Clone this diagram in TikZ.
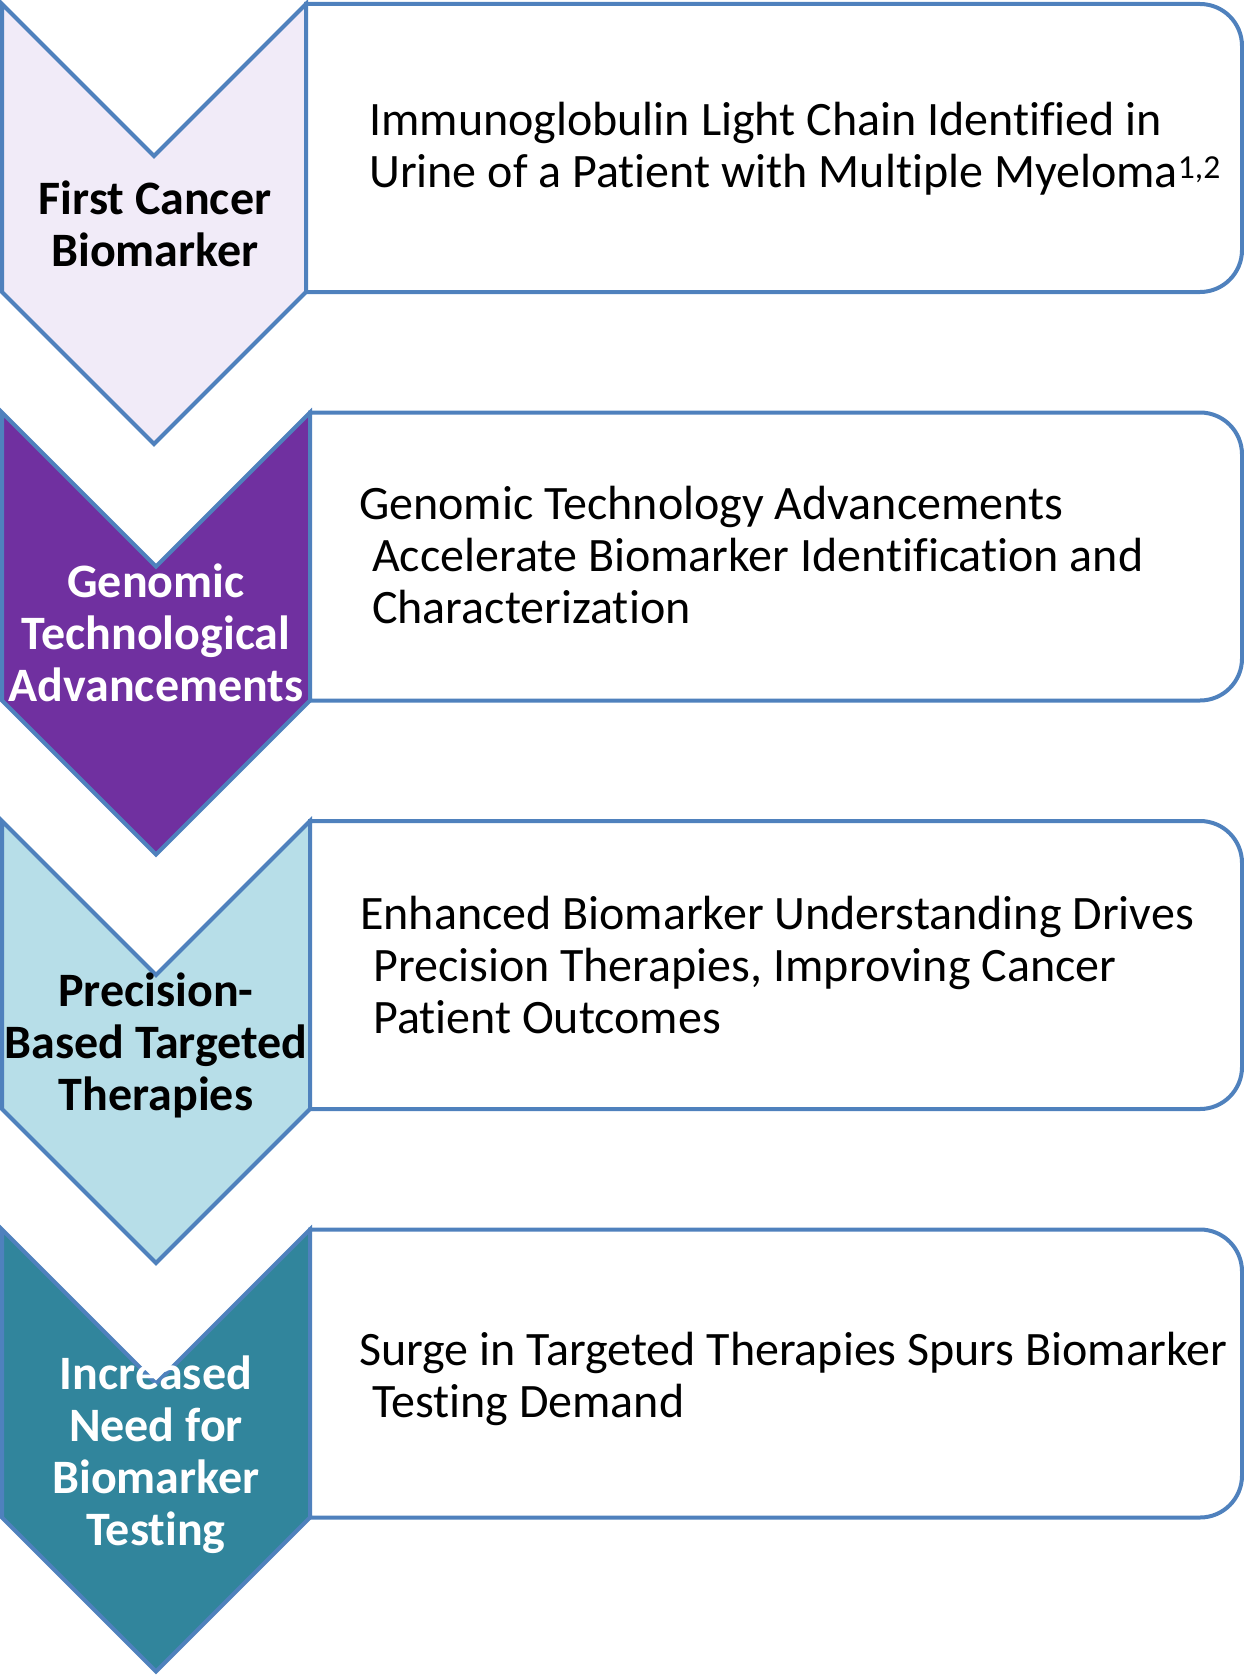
\documentclass[tikz,border=0pt]{standalone}
\usepackage{fontspec}
\setmainfont{Carlito}[Ligatures=NoCommon]
\definecolor{edgeblue}{HTML}{4F81BD}
\definecolor{lavender}{HTML}{F1EBF8}
\definecolor{deeppurple}{HTML}{7030A0}
\definecolor{paleaqua}{HTML}{B7DEE8}
\definecolor{darkteal}{HTML}{31859C}
\tikzset{
  outline/.style={draw=edgeblue, line width=4pt, line join=miter},
  steplabel/.style={font=\bfseries\fontsize{48}{52}\selectfont, align=center, inner sep=0pt},
  boxtext/.style={font=\fontsize{48}{52}\selectfont, align=left, inner sep=0pt, anchor=west},
}
% chevron: #1 left, #2 right, #3 top, #4 body bottom, #5 fill
\newcommand\chevronshape[5]{%
  \pgfmathsetmacro\cmid{(#1+#2)/2}%
  \pgfmathsetmacro\chalf{(#2-#1)/2}%
  \filldraw[outline, fill=#5] (#1,#3) -- (\cmid,#3+\chalf) -- (#2,#3) -- (#2,#4)
    -- (\cmid,#4+\chalf) -- (#1,#4) -- cycle;}
% text panel with rounded right corners: #1 left, #2 top, #3 bottom
\newcommand\panelshape[3]{%
  \filldraw[outline, fill=white] (#1,#2) -- (1200,#2) arc[start angle=-90, end angle=0, radius=42]
    -- (1242,#3-42) arc[start angle=0, end angle=90, radius=42] -- (#1,#3) -- cycle;}
\begin{document}
\begin{tikzpicture}[x=1pt, y=-1pt]
\useasboundingbox (0,0) rectangle (1244,1675);

% step 1
\chevronshape{2}{306}{4}{292}{lavender}
\panelshape{306}{4}{292}
\node[steplabel, text=black] (s1) at (155,224) {First Cancer\\Biomarker};
\node[boxtext] (t1) at (369,149) {Immunoglobulin Light Chain Identified in\\Urine of a Patient with Multiple Myeloma\textsuperscript{1,2}};

% step 2
\chevronshape{2}{310}{412.5}{700.5}{deeppurple}
\panelshape{310}{412.5}{700.5}
\node[steplabel, text=white] (s2) at (156,633) {Genomic\\Technological\\Advancements};
\node[boxtext] (t2) at (359,555) {Genomic Technology Advancements\\\hspace{13pt}Accelerate Biomarker Identification and\\\hspace{13pt}Characterization};

% step 3
\chevronshape{2}{310}{821}{1109}{paleaqua}
\panelshape{310}{821}{1109}
\node[steplabel, text=black] (s3) at (156,1045) {Precision-\\Based Targeted\\Therapies};
\node[boxtext] (t3) at (360,965) {Enhanced Biomarker Understanding Drives\\\hspace{13pt}Precision Therapies, Improving Cancer\\\hspace{13pt}Patient Outcomes};

% step 4
\chevronshape{2}{310}{1229.5}{1517.5}{darkteal}
\panelshape{310}{1229.5}{1517.5}
\node[steplabel, text=white] (s4) at (156,1455) {Increased\\Need for\\Biomarker\\Testing};
\node[boxtext] (t4) at (359,1379) {Surge in Targeted Therapies Spurs Biomarker\\\hspace{13pt}Testing Demand};
\end{tikzpicture}
\end{document}
